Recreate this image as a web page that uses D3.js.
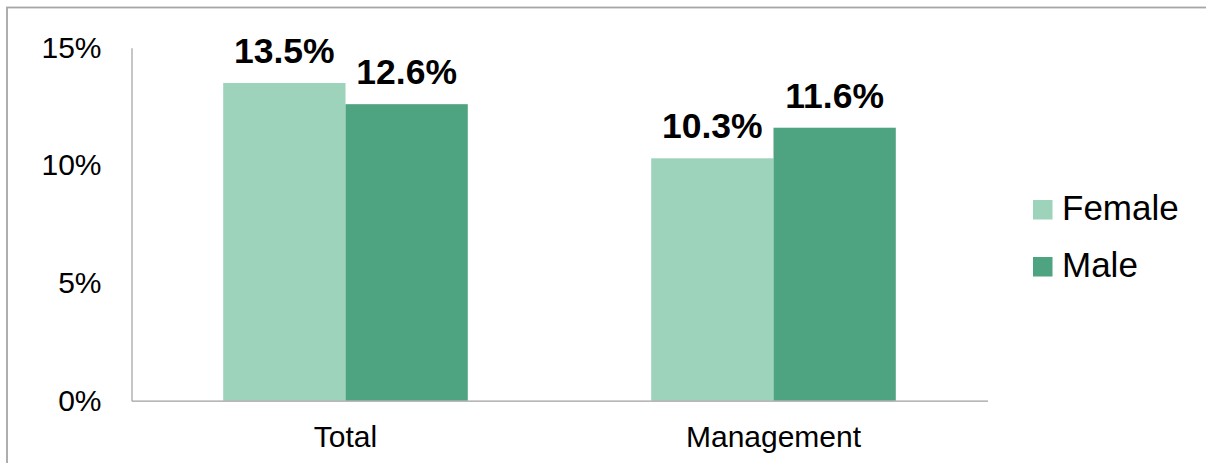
<!DOCTYPE html>
<html>
<head>
<meta charset="utf-8">
<script src="https://cdn.jsdelivr.net/npm/d3@7"></script>
<style>
  body { margin: 0; background: #fff; }
  text { font-family: "Liberation Sans", Arial, sans-serif; fill: #000; }
</style>
</head>
<body>
<div id="chart-area"></div>
<script>
const categories = ["Total", "Management"]
const series = ["Female", "Male"]
const female = [0.135, 0.103]
const male = [0.126, 0.116]
const yTicks = [0, 0.05, 0.10, 0.15]
const colors = ["#9dd2bb", "#4ea380"]

const W = 1206, H = 463
const PLOT = { LEFT: 131.5, RIGHT: 987.5, TOP: 47.7, BOTTOM: 400.7 }

const svg = d3.select("#chart-area").append("svg")
    .attr("width", W)
    .attr("height", H)

// outer frame (only top/left show in the crop)
svg.append("rect")
    .attr("x", 7).attr("y", 7.5)
    .attr("width", W + 20).attr("height", H + 20)
    .attr("fill", "none")
    .attr("stroke", "#a6a6a6")
    .attr("stroke-width", 1.8)

const data = categories.map((c, i) => ({ cat: c, values: [female[i], male[i]] }))

const x0 = d3.scaleBand()
    .domain(categories)
    .range([PLOT.LEFT, PLOT.RIGHT])
    .padding(0)

const x1 = d3.scaleBand()
    .domain(series)
    .range([0, x0.bandwidth()])
    .paddingInner(0)
    .paddingOuter(0.75)

const y = d3.scaleLinear()
    .domain([0, 0.15])
    .range([PLOT.BOTTOM, PLOT.TOP])

// bars
const groups = svg.selectAll("g.cat")
    .data(data)
    .enter().append("g")
    .attr("class", "cat")
    .attr("transform", d => `translate(${x0(d.cat)},0)`)

groups.selectAll("rect")
    .data(d => d.values.map((v, i) => ({ s: series[i], v: v, i: i })))
    .enter().append("rect")
    .attr("x", d => x1(d.s))
    .attr("y", d => y(d.v))
    .attr("width", x1.bandwidth())
    .attr("height", d => y(0) - y(d.v))
    .attr("fill", d => colors[d.i])

// data labels
groups.selectAll("text.lbl")
    .data(d => d.values.map((v, i) => ({ s: series[i], v: v })))
    .enter().append("text")
    .attr("class", "lbl")
    .attr("x", d => x1(d.s) + x1.bandwidth() / 2)
    .attr("y", d => y(d.v) - 20)
    .attr("text-anchor", "middle")
    .attr("font-size", "35.5px")
    .attr("font-weight", "bold")
    .text(d => d3.format(".1%")(d.v))

// y axis
const yAxis = svg.append("g")
    .attr("transform", `translate(${PLOT.LEFT},0)`)
    .call(d3.axisLeft(y).tickValues(yTicks).tickSize(0).tickPadding(30)
        .tickFormat(d3.format(".0%")))
yAxis.select(".domain").attr("stroke", "#a0a0a0").attr("stroke-width", 1.2)
yAxis.selectAll("text")
    .attr("font-size", "30px")
    .attr("font-family", "Liberation Sans, Arial, sans-serif")
    .attr("fill", "#000")

// x axis
const xAxis = svg.append("g")
    .attr("transform", `translate(0,${PLOT.BOTTOM})`)
    .call(d3.axisBottom(x0).tickSize(0).tickPadding(25))
xAxis.select(".domain").attr("stroke", "#a0a0a0").attr("stroke-width", 1.2)
xAxis.selectAll("text")
    .attr("font-size", "30px")
    .attr("font-family", "Liberation Sans, Arial, sans-serif")
    .attr("fill", "#000")

// legend
const legend = svg.selectAll("g.legend")
    .data(series)
    .enter().append("g")
    .attr("class", "legend")
    .attr("transform", (d, i) => `translate(1033,${220 + i * 57})`)

legend.append("rect")
    .attr("x", 0).attr("y", -20)
    .attr("width", 19.5).attr("height", 19.5)
    .attr("fill", (d, i) => colors[i])

legend.append("text")
    .attr("x", 29)
    .attr("y", 0)
    .attr("font-size", "35px")
    .text(d => d)
</script>
</body>
</html>
